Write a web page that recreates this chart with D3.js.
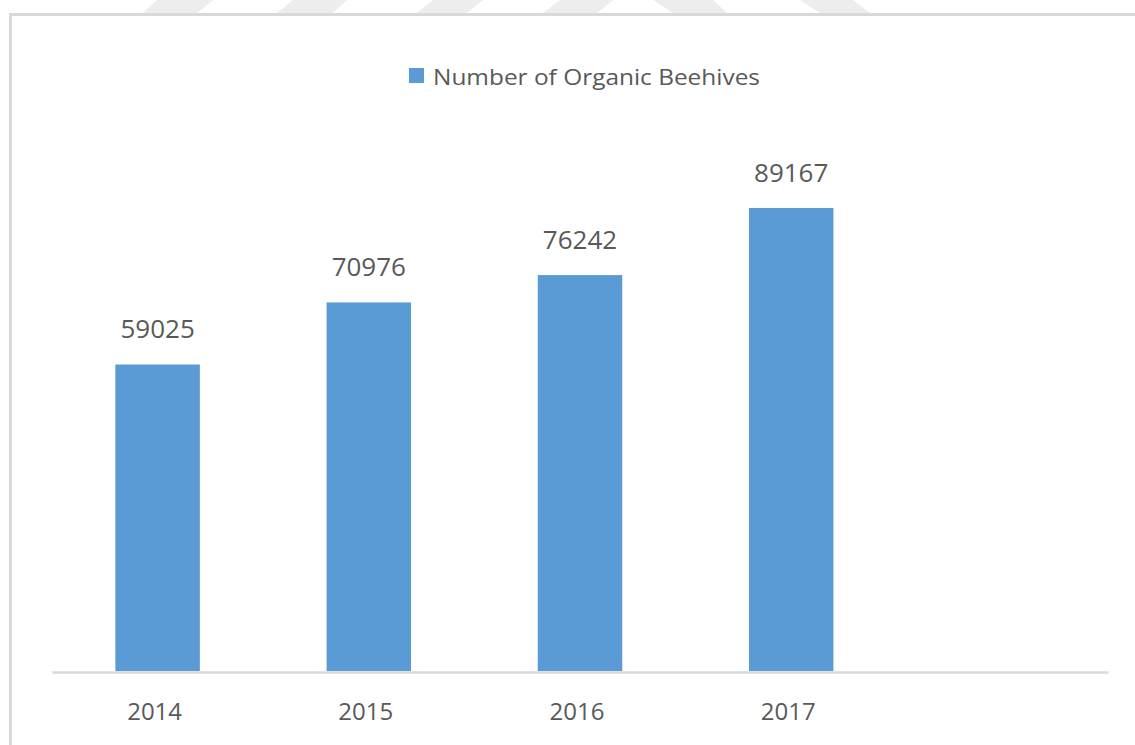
<!DOCTYPE html>
<html>
<head>
<meta charset="utf-8">
<script src="https://cdn.jsdelivr.net/npm/d3@7"></script>
<style>
  html, body { margin: 0; padding: 0; background: #ffffff; }
  svg { display: block; }
  text { font-family: "Open Sans", "DejaVu Sans", sans-serif; fill: #595959; }
</style>
</head>
<body>
<svg id="chart" width="1135" height="745"></svg>
<script>
// Organic beehive counts by year
const years = ["2014", "2015", "2016", "2017"];
const slots = ["2014", "2015", "2016", "2017", ""];   // last category slot is left empty
const hives = [59025, 70976, 76242, 89167];
const seriesName = "Number of Organic Beehives";
const yMax = 100000;

const W = 1135, H = 745;
const svg = d3.select("#chart");
const barColor = "#5b9bd5";
const lineColor = "#d9d9d9";

// faint diagonal watermark bands along the top edge
const bands = [
  [[157, 0], [213, 0], [197, 13], [143, 13]],
  [[293, 0], [347, 0], [333, 13], [277, 13]],
  [[433, 0], [483, 0], [467, 13], [417, 13]],
  [[560, 0], [613, 0], [597, 13], [543, 13]],
  [[653, 0], [713, 0], [727, 13], [673, 13]],
  [[800, 0], [853, 0], [870, 13], [820, 13]]
];
svg.append("g").selectAll("polygon").data(bands).join("polygon")
  .attr("points", d => d.map(p => p.join(",")).join(" "))
  .attr("fill", "#ededed");

// chart frame (open to the right and bottom)
svg.append("path")
  .attr("d", "M10.5,745 V14.5 H1135")
  .attr("fill", "none")
  .attr("stroke", lineColor)
  .attr("stroke-width", 3);

// scales
const x = d3.scaleBand().domain(slots).range([52, 1108]).paddingInner(0.6).paddingOuter(0.3);
const y = d3.scaleLinear().domain([0, yMax]).range([671, 671 - 519.3]);

// bars
svg.append("g").selectAll("rect").data(years).join("rect")
  .attr("x", d => x(d))
  .attr("width", x.bandwidth())
  .attr("y", (d, i) => y(hives[i]))
  .attr("height", (d, i) => y(0) - y(hives[i]))
  .attr("fill", barColor);

// value labels above bars
svg.append("g").selectAll("text").data(years).join("text")
  .attr("x", d => x(d) + x.bandwidth() / 2)
  .attr("y", (d, i) => y(hives[i]) - 26)
  .attr("text-anchor", "middle")
  .style("font-size", "26px")
  .text((d, i) => hives[i]);

// category axis
const xAxis = svg.append("g")
  .attr("transform", `translate(0,${y(0) + 1})`)
  .call(d3.axisBottom(x).tickSize(0).tickPadding(31).tickFormat(d => d));
xAxis.select(".domain").attr("stroke", lineColor).attr("stroke-width", 2.5);
xAxis.selectAll(".tick").filter(d => d === "").remove();
xAxis.selectAll(".tick text")
  .attr("dx", -3)
  .style("font-size", "24px")
  .style("font-family", "\"Open Sans\", sans-serif")
  .attr("fill", "#595959");

// legend
const legend = svg.append("g");
legend.append("rect")
  .attr("x", 409).attr("y", 68).attr("width", 15).attr("height", 15)
  .attr("fill", barColor);
legend.append("text")
  .attr("x", 433).attr("y", 85)
  .attr("textLength", 327)
  .attr("lengthAdjust", "spacingAndGlyphs")
  .style("font-size", "21px")
  .text(seriesName);
</script>
</body>
</html>
